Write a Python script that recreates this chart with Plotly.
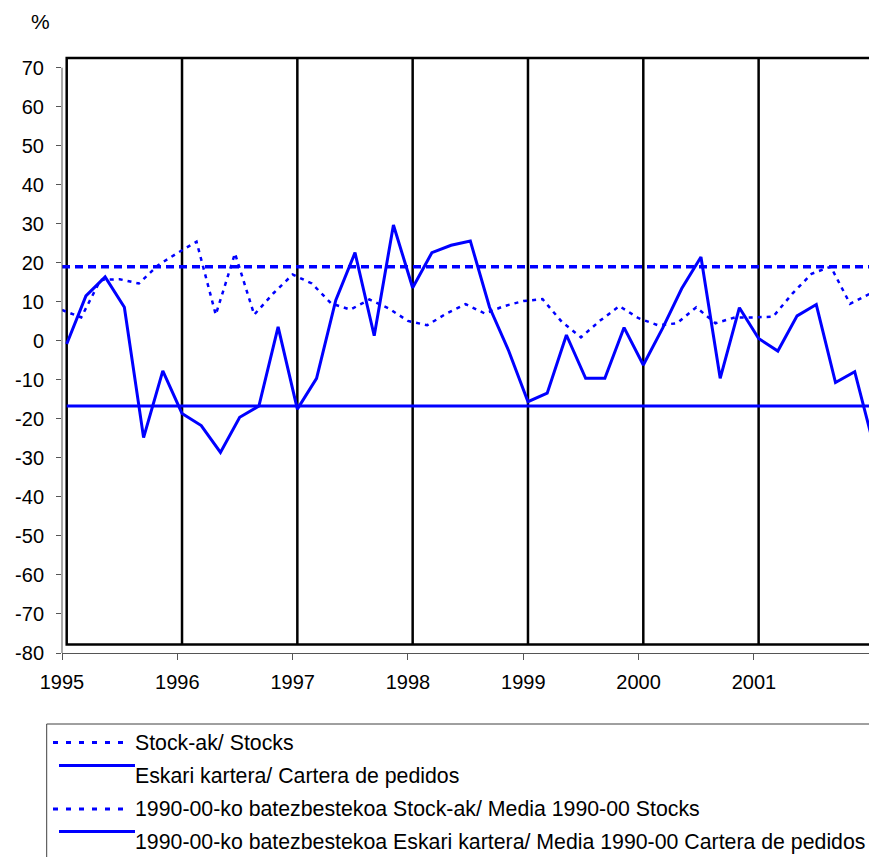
import plotly.graph_objects as go

# ---------------- data ----------------
year_labels = ["1995", "1996", "1997", "1998", "1999", "2000", "2001", "2002"]
periods_per_year = 6

stocks = [7.9, 6.0, 15.6, 15.8, 14.7, 19.4, 22.5, 25.4, 6.7, 22.4,
          6.7, 12.2, 17.0, 14.7, 9.6, 8.0, 10.6, 8.3, 5.1, 4.0,
          7.0, 9.4, 7.0, 8.9, 10.2, 10.7, 4.9, 0.9, 5.2, 8.9,
          5.8, 4.0, 4.5, 8.6, 4.5, 6.0, 6.0, 6.2, 12.1, 17.2,
          19.0, 9.5, 12.0]

orders = [-0.8, 11.5, 16.4, 8.6, -24.8, -7.7, -18.6, -21.7, -28.6, -19.6,
          -16.7, 3.6, -17.5, -9.6, 10.4, 22.6, 1.3, 29.7, 13.6, 22.6,
          24.5, 25.6, 8.6, -2.6, -15.6, -13.4, 1.5, -9.6, -9.6, 3.4,
          -6.2, 3.2, 13.4, 21.5, -9.6, 8.5, 0.6, -2.6, 6.4, 9.3,
          -10.7, -7.9, -27.0]

stocks_avg = 19.0
orders_avg = -16.7

y_ticks = list(range(-80, 71, 10))
y_ticktext = [str(v) for v in y_ticks]

names = ["Stock-ak/ Stocks",
         "Eskari kartera/ Cartera de pedidos",
         "1990-00-ko batezbestekoa Stock-ak/ Media 1990-00 Stocks",
         "1990-00-ko batezbestekoa Eskari kartera/ Media 1990-00 Cartera de pedidos"]

# ---------------- layout constants ----------------
W, H = 869, 857
L, R, T, B = 62, 0, 56, 204
PX_PER = 19.22
XR = [0, (W - L - R) / PX_PER]
SHIFT = 4.7 / PX_PER
X2R = [XR[0] - SHIFT, XR[1] - SHIFT]
YR = [-80, 73]
BLUE = "#0000FF"
FONT = "Liberation Sans, Arial, sans-serif"

n = len(stocks)
idx = list(range(n))


def px_x(px):
    """page pixel x -> paper coordinate"""
    return (px - L) / (W - L - R)


def px_y(py):
    """page pixel y -> paper coordinate"""
    return (H - B - py) / (H - T - B)


fig = go.Figure()
fig.add_trace(go.Scatter(x=idx, y=stocks, mode="lines", xaxis="x", yaxis="y",
                         line=dict(color=BLUE, width=2.5, dash="4px,5px"),
                         name=names[0], showlegend=False))
fig.add_trace(go.Scatter(x=idx, y=[stocks_avg] * n, mode="lines", xaxis="x", yaxis="y",
                         line=dict(color=BLUE, width=3.5, dash="8px,5px"),
                         name=names[2], showlegend=False))
fig.add_trace(go.Scatter(x=idx, y=[orders_avg] * n, mode="lines", xaxis="x2", yaxis="y",
                         line=dict(color=BLUE, width=3),
                         name=names[3], showlegend=False))
fig.add_trace(go.Scatter(x=idx, y=orders, mode="lines", xaxis="x2", yaxis="y",
                         line=dict(color=BLUE, width=3),
                         name=names[1], showlegend=False))

shapes = []
# frame of the inner plot
shapes.append(dict(type="rect", xref="x2", yref="y", x0=0, x1=n + 1, y0=-77.8, y1=72.5,
                   line=dict(color="black", width=2.5), layer="below"))
# year separators
for k in range(1, len(year_labels) - 1):
    shapes.append(dict(type="line", xref="x2", yref="y", x0=k * periods_per_year,
                       x1=k * periods_per_year, y0=-77.8, y1=72.5,
                       line=dict(color="black", width=2.5), layer="below"))
# y axis line
shapes.append(dict(type="line", xref="paper", yref="y", x0=0, x1=0, y0=-80, y1=70,
                   line=dict(color="#555555", width=1)))

# legend box
shapes.append(dict(type="rect", xref="paper", yref="paper",
                   x0=px_x(46.7), x1=px_x(900), y0=px_y(724), y1=px_y(890),
                   line=dict(color="#404040", width=1), fillcolor="white"))

annotations = []
leg_text_y = [742.5, 776, 809, 842]
for i, nm in enumerate(names):
    ty = leg_text_y[i]
    if i % 2 == 0:
        shapes.append(dict(type="line", xref="paper", yref="paper",
                           x0=px_x(53), x1=px_x(131), y0=px_y(ty), y1=px_y(ty),
                           line=dict(color=BLUE, width=3, dash="5px,8px")))
    else:
        sy = ty - 10.5
        shapes.append(dict(type="line", xref="paper", yref="paper",
                           x0=px_x(59), x1=px_x(135), y0=px_y(sy), y1=px_y(sy),
                           line=dict(color=BLUE, width=3)))
    annotations.append(dict(xref="paper", yref="paper", x=px_x(133), y=px_y(ty),
                            text=nm, showarrow=False, xanchor="left", yanchor="middle",
                            font=dict(family=FONT, size=21.3, color="black")))

annotations.append(dict(xref="paper", yref="paper", x=px_x(40), y=px_y(21),
                        text="%", showarrow=False, xanchor="center", yanchor="middle",
                        font=dict(family=FONT, size=21, color="black")))

fig.update_layout(
    width=W, height=H,
    margin=dict(l=L, r=R, t=T, b=B, pad=0),
    paper_bgcolor="white", plot_bgcolor="white",
    showlegend=False,
    font=dict(family=FONT, size=20, color="black"),
    xaxis=dict(range=XR, tickvals=[k * periods_per_year for k in range(len(year_labels))],
               ticktext=year_labels, ticks="outside", ticklen=6, tickcolor="#555555",
               showline=True, linecolor="#555555", linewidth=1, showgrid=False,
               zeroline=False, tickfont=dict(family=FONT, size=20), ticklabelstandoff=5),
    xaxis2=dict(range=X2R, overlaying="x", visible=False, showgrid=False, zeroline=False),
    yaxis=dict(range=YR, tickvals=y_ticks, ticktext=y_ticktext, ticks="outside", ticklen=5,
               tickcolor="#555555", showline=False, showgrid=False, zeroline=False,
               tickfont=dict(family=FONT, size=20), ticklabelstandoff=8),
    shapes=shapes,
    annotations=annotations,
)

fig.write_html("out.html",
               config={"displayModeBar": False},
               post_script="document.body.style.margin='0';"
                           "document.body.style.overflow='hidden';")
